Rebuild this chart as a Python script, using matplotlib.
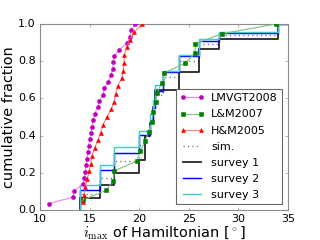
import numpy as np
import matplotlib
matplotlib.use('Agg')
import matplotlib.pyplot as plt

# inclination values (deg)
lmvgt2008 = [10.9, 13.33, 13.43, 14.33, 14.44, 14.57, 14.67, 14.74, 14.84, 14.91,
             15.01, 15.17, 15.27, 15.34, 15.51, 15.82, 15.98, 16.38, 16.45, 16.89,
             17.13, 17.33, 17.39, 17.49, 17.96, 18.80, 19.07, 19.17, 19.58]
lm2007 = [14.30, 16.65, 17.39, 17.49, 19.75, 20.13, 20.58, 20.94, 21.26, 21.42,
          21.66, 21.82, 22.27, 22.53, 24.62, 25.63, 25.67, 28.32, 33.79]
hm2005 = [14.33, 14.44, 14.57, 14.77, 14.94, 15.11, 15.24, 15.51, 15.85, 16.12,
          16.35, 16.75, 17.19, 17.46, 17.63, 17.83, 18.24, 18.40, 18.47, 18.50,
          18.74, 19.07, 19.51, 20.31]

# step curves (where='post')
step_x = [14.0, 14.0, 16.0, 17.5, 20.0, 20.6, 21.1, 21.4, 21.6, 22.4, 24.0, 26.0, 28.0, 34.0, 35.0]
sim = [0.0, 0.088, 0.172, 0.265, 0.35, 0.40, 0.47, 0.55, 0.62, 0.715, 0.80, 0.895, 0.94, 1.0, 1.0]
survey1 = [0.0, 0.062, 0.137, 0.20, 0.27, 0.40, 0.47, 0.553, 0.646, 0.646, 0.743, 0.865, 0.92, 1.0, 1.0]
survey2 = [0.0, 0.108, 0.213, 0.305, 0.405, 0.405, 0.476, 0.55, 0.64, 0.742, 0.828, 0.908, 0.95, 1.0, 1.0]
survey3 = [0.0, 0.133, 0.24, 0.337, 0.426, 0.426, 0.516, 0.59, 0.67, 0.745, 0.834, 0.918, 0.955, 1.0, 1.0]


def cdf(vals):
    v = np.sort(vals)
    return v, np.arange(1, len(v) + 1) / len(v)


plt.style.use('classic')
fig = plt.figure(figsize=(4, 3), dpi=80)
ax = fig.add_axes([0.125, 0.125, 0.775, 0.775])

x, y = cdf(lmvgt2008)
ax.plot(x, y, '-o', color='violet', mfc='m', mec='m', ms=3.6, mew=0.5, lw=1, label='LMVGT2008', zorder=5)
x, y = cdf(lm2007)
ax.plot(x, y, '-s', color='#80c080', mfc='g', mec='g', ms=3.3, mew=0.5, lw=1, label='L&M2007', zorder=5)
x, y = cdf(hm2005)
ax.plot(x, y, '-^', color='#ff8080', mfc='r', mec='r', ms=3.6, mew=0.5, lw=1, label='H&M2005', zorder=5)

ax.step(step_x, sim, where='post', color='0.4', ls=':', lw=1.2, label='sim.')
ax.step(step_x, survey1, where='post', color='#222222', lw=1.6, label='survey 1')
ax.step(step_x, survey2, where='post', color='b', lw=1.3, label='survey 2')
ax.step(step_x, survey3, where='post', color='#40cccc', lw=1.3, label='survey 3')

ax.set_xlim(10, 35)
ax.set_ylim(0, 1.0)
ax.set_xticks([10, 15, 20, 25, 30, 35])
ax.set_yticks([0.0, 0.2, 0.4, 0.6, 0.8, 1.0])
ax.tick_params(labelsize=10, length=3, color='0.5')
for s in ax.spines.values():
    s.set_color('0.55')

ax.set_xlabel(r'$i_{\rm max}$ of Hamiltonian [$^\circ$]', fontsize=13, labelpad=0)
ax.set_ylabel('cumulative fraction', fontsize=13, labelpad=2)

leg = ax.legend(loc='lower right', fontsize=10, numpoints=2, handlelength=2.2,
                labelspacing=0.55, borderpad=0.4, handletextpad=0.6)
leg.get_frame().set_edgecolor('0.4')

fig.savefig('out.png', dpi=80)
